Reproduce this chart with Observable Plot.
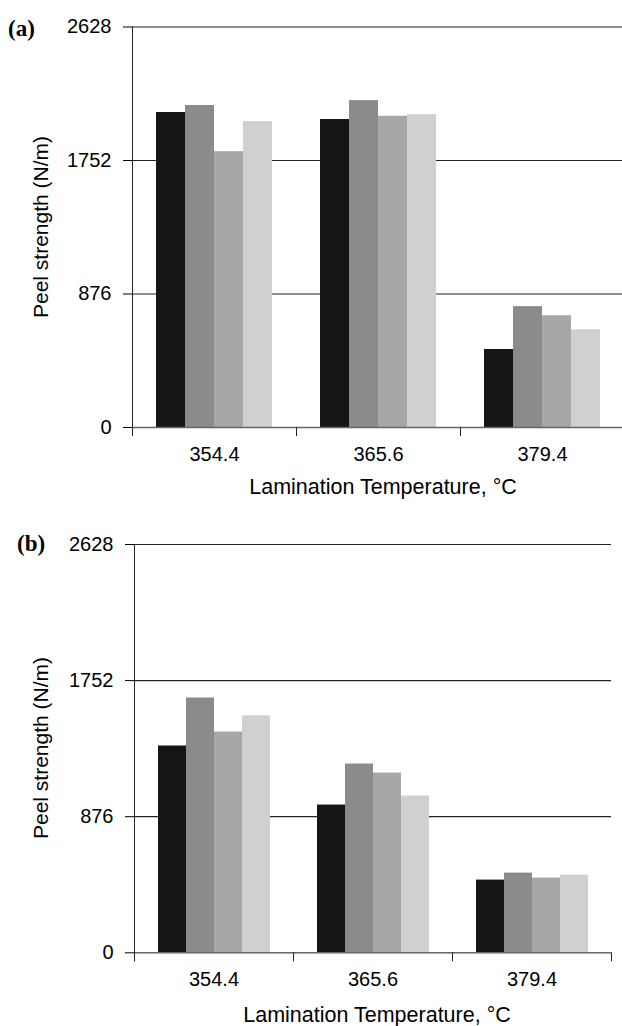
<!DOCTYPE html>
<html><head><meta charset="utf-8">
<script src="https://cdn.jsdelivr.net/npm/d3@7"></script>
<script src="https://cdn.jsdelivr.net/npm/@observablehq/plot@0.6"></script>
<style>
body{margin:0;background:#fff;overflow:hidden}
#root{position:relative;width:622px;height:1026px;font-family:"Liberation Sans",Arial,sans-serif;color:#000;background:#fff}
.panel{position:absolute;left:0;width:622px}
.tag{position:absolute;font-family:"Liberation Serif","Times New Roman",serif;font-weight:bold;font-size:23px;line-height:1;transform:translateY(-50%)}
.xt{position:absolute;font-size:21.5px;white-space:nowrap;line-height:1;transform:translate(-50%,-50%)}
.yt{position:absolute;font-size:21px;white-space:nowrap;line-height:1;transform:translate(-50%,-50%) rotate(-90deg)}
</style></head><body><div id="root"></div>
<script>
const categories = ["354.4", "365.6", "379.4"];
const series = ["S1", "S2", "S3", "S4"];
const panelAValues = [
  [2067, 2113, 1810, 2007],
  [2021, 2145, 2042, 2053],
  [512, 793, 733, 641]
];
const panelBValues = [
  [1331, 1640, 1421, 1525],
  [951, 1215, 1157, 1009],
  [468, 513, 481, 500]
];
const yTicks = [0, 876, 1752, 2628];
const panelLabels = ["(a)", "(b)"];
const xTitle = "Lamination Temperature, \u00B0C";
const yTitle = "Peel strength (N/m)";
const colors = ["#151515", "#8a8b8d", "#a6a7a9", "#cfd0d2"];

const layouts = [
  {top: 0, height: 510, mt: 26.5, mb: 83, ml: 131, mr: -2.5, tagX: 8, tagY: 28, xtX: 383, xtY: 488, ytX: 40},
  {top: 510, height: 516, mt: 34, mb: 73.7, ml: 133, mr: 9.7, tagX: 17, tagY: 33, xtX: 377, xtY: 506, ytX: 40}
];

const root = document.getElementById("root");

[panelAValues, panelBValues].forEach((vals, p) => {
  const L = layouts[p];
  const rows = [];
  categories.forEach((c, i) => series.forEach((s, j) => rows.push({cat: c, series: s, value: vals[i][j]})));
  const plotH = L.height - L.mt - L.mb;
  const chart = Plot.plot({
    width: 622,
    height: L.height,
    marginTop: L.mt,
    marginBottom: L.mb,
    marginLeft: L.ml,
    marginRight: L.mr,
    style: {fontFamily: '"Liberation Sans", Arial, sans-serif', fontSize: "20px", color: "#000", background: "transparent", overflow: "visible"},
    fx: {domain: categories, padding: 0, label: null, axis: "bottom", tickSize: 0, tickPadding: 19},
    x: {domain: series, paddingInner: 0, paddingOuter: 0.76, axis: null},
    y: {domain: [0, 2628], ticks: yTicks, tickSize: 9, tickPadding: 12, label: null, tickFormat: "d"},
    color: {domain: series, range: colors},
    marks: [
      Plot.ruleY(yTicks.filter(d => d > 0), {stroke: "#222", strokeWidth: 1.2}),
      Plot.barY(rows, {fx: "cat", x: "series", y: "value", fill: "series"}),
      Plot.ruleY([0], {stroke: "#666", strokeWidth: 1.5}),
      Plot.frame({anchor: "left", facetAnchor: "left", insetBottom: -8, stroke: "#222"}),
      Plot.frame({anchor: "left", insetTop: plotH, insetBottom: -8, stroke: "#222"}),
      Plot.frame({anchor: "right", facetAnchor: "right", insetTop: plotH, insetBottom: -8, stroke: "#222"})
    ]
  });
  const panel = document.createElement("div");
  panel.className = "panel";
  panel.style.top = L.top + "px";
  panel.style.height = L.height + "px";
  panel.appendChild(chart);
  const tag = document.createElement("div");
  tag.className = "tag";
  tag.style.left = L.tagX + "px";
  tag.style.top = L.tagY + "px";
  tag.textContent = panelLabels[p];
  panel.appendChild(tag);
  const xt = document.createElement("div");
  xt.className = "xt";
  xt.style.left = L.xtX + "px";
  xt.style.top = L.xtY + "px";
  xt.textContent = xTitle;
  panel.appendChild(xt);
  const yt = document.createElement("div");
  yt.className = "yt";
  yt.style.left = L.ytX + "px";
  yt.style.top = (L.mt + plotH / 2) + "px";
  yt.textContent = yTitle;
  panel.appendChild(yt);
  root.appendChild(panel);
});
</script>
</body></html>
